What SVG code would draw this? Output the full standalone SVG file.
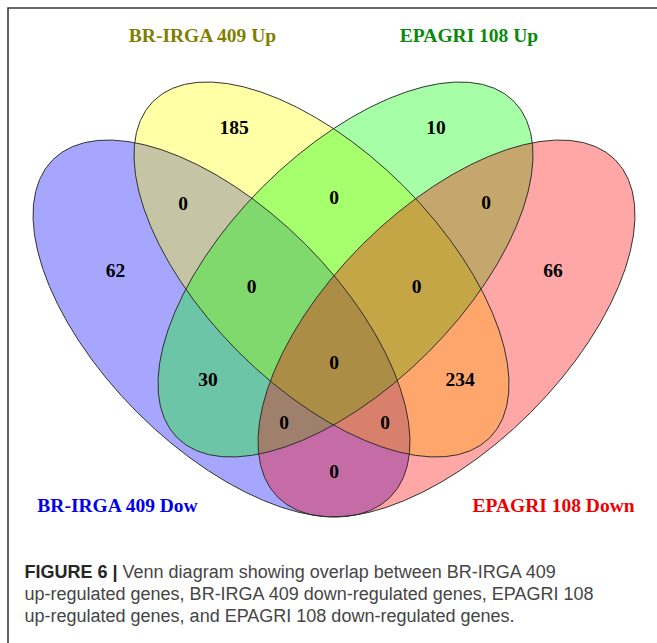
<svg xmlns="http://www.w3.org/2000/svg" width="657" height="643" viewBox="0 0 657 643">
<style>
.set{fill-opacity:0.35;stroke:none}
.outline{fill:none;stroke:#2a2a2a;stroke-width:0.9}
.num{font-family:"Liberation Serif","Times New Roman",serif;font-weight:bold;font-size:19.5px;fill:#000;text-anchor:middle}
.title{font-family:"Liberation Serif","Times New Roman",serif;font-weight:bold;font-size:19.5px;text-anchor:middle}
.cap{font-family:"Liberation Sans",Arial,sans-serif;font-size:18px;fill:#454545}
.capb{font-weight:bold;fill:#262626}
</style>
<rect width="657" height="643" fill="#fff"/>
<path d="M8,643 V8 H657" fill="none" stroke="#3a3a3a" stroke-width="1.6"/>

<g id="sets">
  <g id="set-brirga-down"><ellipse class="set" fill="#0000ff" cx="221.5" cy="328.5" rx="238.6" ry="118.9" transform="rotate(45 221.5 328.5)"/></g>
  <g id="set-brirga-up"><ellipse class="set" fill="#ffff00" cx="321.5" cy="269.5" rx="238" ry="117" transform="rotate(45 321.5 269.5)"/></g>
  <g id="set-epagri-up"><ellipse class="set" fill="#00ff00" cx="345.5" cy="269.5" rx="238" ry="117" transform="rotate(-45 345.5 269.5)"/></g>
  <g id="set-epagri-down"><ellipse class="set" fill="#ff0000" cx="446.5" cy="328.5" rx="238.6" ry="118.9" transform="rotate(-45 446.5 328.5)"/></g>
</g>
<g id="outlines">
  <ellipse class="outline" cx="221.5" cy="328.5" rx="238.6" ry="118.9" transform="rotate(45 221.5 328.5)"/>
  <ellipse class="outline" cx="321.5" cy="269.5" rx="238" ry="117" transform="rotate(45 321.5 269.5)"/>
  <ellipse class="outline" cx="345.5" cy="269.5" rx="238" ry="117" transform="rotate(-45 345.5 269.5)"/>
  <ellipse class="outline" cx="446.5" cy="328.5" rx="238.6" ry="118.9" transform="rotate(-45 446.5 328.5)"/>
</g>

<g id="counts">
  <text class="num" x="234" y="133.5">185</text>
  <text class="num" x="436" y="133.5">10</text>
  <text class="num" x="183" y="209.5">0</text>
  <text class="num" x="334" y="203.5">0</text>
  <text class="num" x="486" y="209">0</text>
  <text class="num" x="115.5" y="276.5">62</text>
  <text class="num" x="251.5" y="293">0</text>
  <text class="num" x="416.5" y="293">0</text>
  <text class="num" x="553" y="276.5">66</text>
  <text class="num" x="334" y="369">0</text>
  <text class="num" x="208" y="386">30</text>
  <text class="num" x="460" y="386">234</text>
  <text class="num" x="284" y="428.5">0</text>
  <text class="num" x="385" y="428.5">0</text>
  <text class="num" x="334" y="478">0</text>
</g>

<g id="titles">
  <text class="title" x="202.5" y="42" fill="#7f7f00">BR-IRGA 409 Up</text>
  <text class="title" x="469" y="42" fill="#0a8a0a">EPAGRI 108 Up</text>
  <text class="title" x="117.5" y="512" fill="#0000ee">BR-IRGA 409 Dow</text>
  <text class="title" x="553.5" y="512" fill="#ee0000">EPAGRI 108 Down</text>
</g>

<g id="caption">
  <text class="cap" x="24.5" y="578"><tspan class="capb">FIGURE 6 |</tspan> Venn diagram showing overlap between BR-IRGA 409</text>
  <text class="cap" x="24.5" y="600">up-regulated genes, BR-IRGA 409 down-regulated genes, EPAGRI 108</text>
  <text class="cap" x="24.5" y="622">up-regulated genes, and EPAGRI 108 down-regulated genes.</text>
</g>
</svg>
